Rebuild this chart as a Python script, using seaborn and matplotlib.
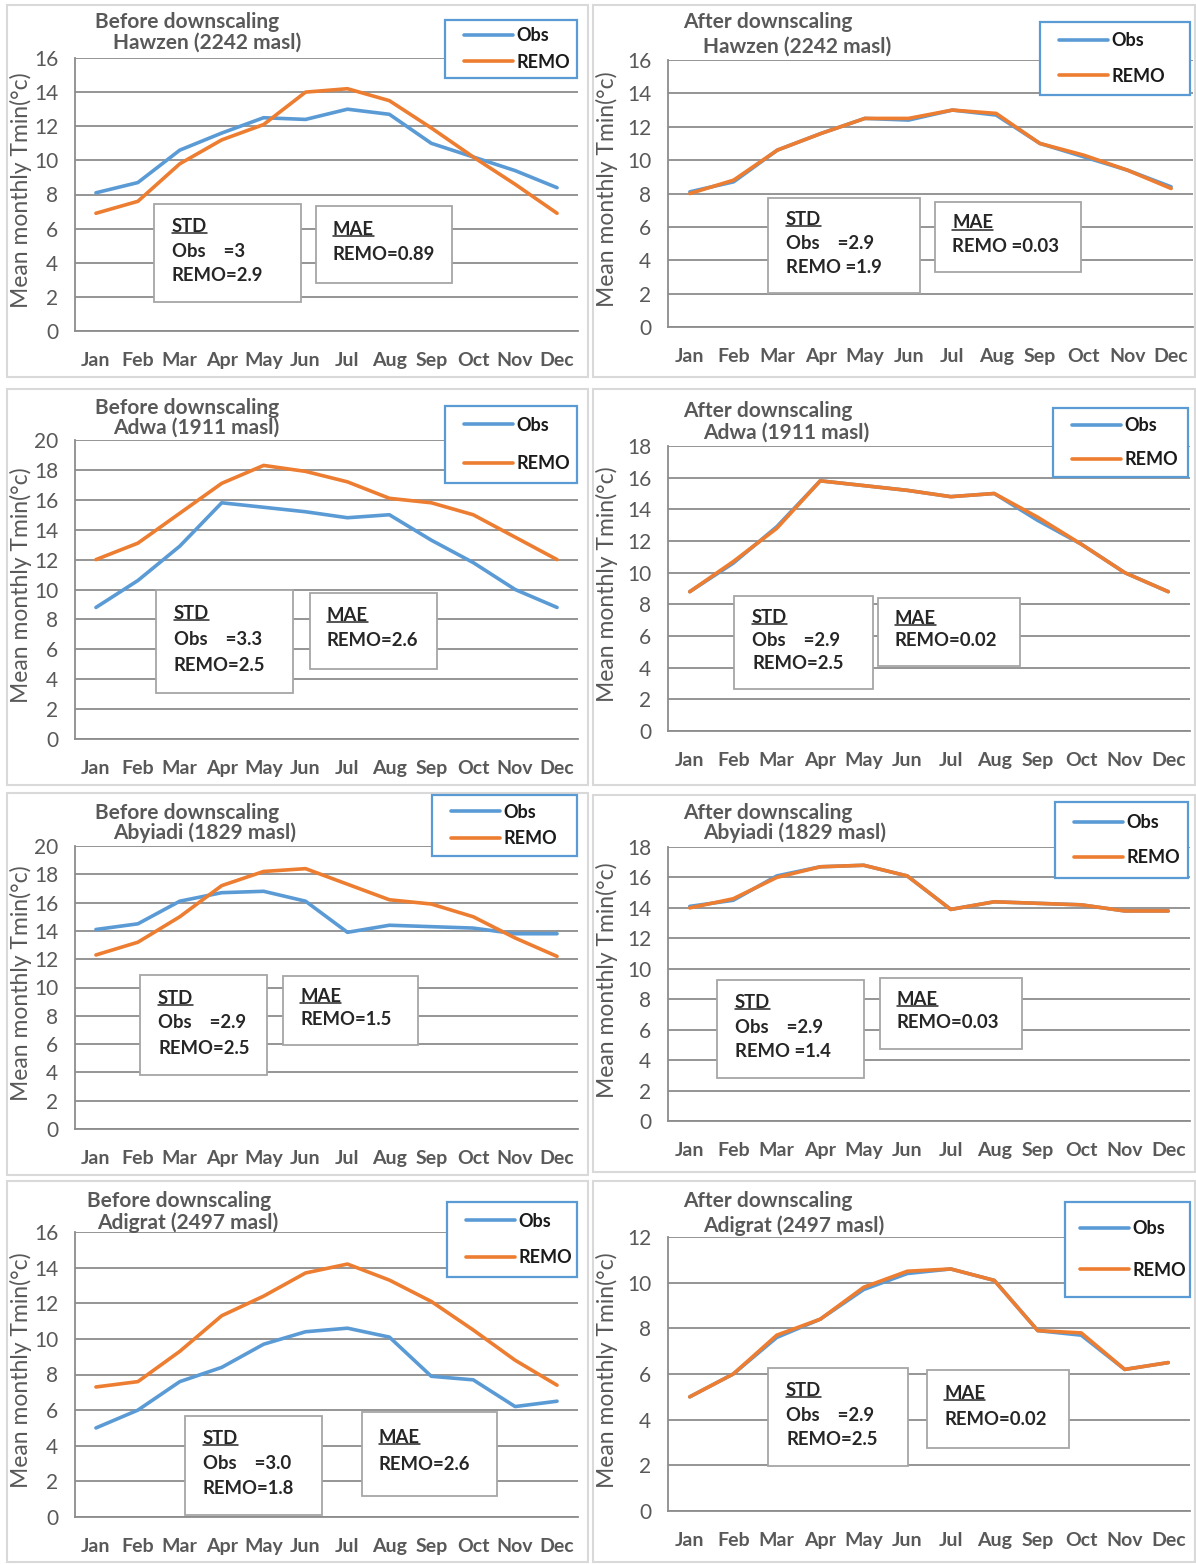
import numpy as np
import pandas as pd
import matplotlib.pyplot as plt
import seaborn as sns
from matplotlib.patches import Rectangle
from matplotlib.lines import Line2D

# Monthly mean Tmin values
months = ['Jan', 'Feb', 'Mar', 'Apr', 'May', 'Jun', 'Jul', 'Aug', 'Sep', 'Oct', 'Nov', 'Dec']

hawzen_obs = [8.1, 8.7, 10.6, 11.6, 12.5, 12.4, 13.0, 12.7, 11.0, 10.2, 9.4, 8.4]
hawzen_remo_before = [6.9, 7.6, 9.8, 11.2, 12.1, 14.0, 14.2, 13.5, 11.9, 10.2, 8.6, 6.9]
hawzen_remo_after = [8.0, 8.8, 10.6, 11.6, 12.5, 12.5, 13.0, 12.8, 11.0, 10.3, 9.4, 8.3]

adwa_obs = [8.8, 10.6, 12.9, 15.8, 15.5, 15.2, 14.8, 15.0, 13.3, 11.8, 10.0, 8.8]
adwa_remo_before = [12.0, 13.1, 15.1, 17.1, 18.3, 17.9, 17.2, 16.1, 15.8, 15.0, 13.5, 12.0]
adwa_remo_after = [8.8, 10.7, 12.8, 15.8, 15.5, 15.2, 14.8, 15.0, 13.5, 11.8, 10.0, 8.8]

abyiadi_obs = [14.1, 14.5, 16.1, 16.7, 16.8, 16.1, 13.9, 14.4, 14.3, 14.2, 13.8, 13.8]
abyiadi_remo_before = [12.3, 13.2, 15.0, 17.2, 18.2, 18.4, 17.3, 16.2, 15.9, 15.0, 13.5, 12.2]
abyiadi_remo_after = [14.0, 14.6, 16.0, 16.7, 16.8, 16.1, 13.9, 14.4, 14.3, 14.2, 13.8, 13.8]

adigrat_obs = [5.0, 6.0, 7.6, 8.4, 9.7, 10.4, 10.6, 10.1, 7.9, 7.7, 6.2, 6.5]
adigrat_remo_before = [7.3, 7.6, 9.3, 11.3, 12.4, 13.7, 14.2, 13.3, 12.1, 10.5, 8.8, 7.4]
adigrat_remo_after = [5.0, 6.0, 7.7, 8.4, 9.8, 10.5, 10.6, 10.1, 7.9, 7.8, 6.2, 6.5]

stations = ['Hawzen (2242 masl)', 'Adwa (1911 masl)', 'Abyiadi (1829 masl)', 'Adigrat (2497 masl)']
# stats per panel, in panel order (before/after for each station)
std_obs_txt = ['Obs    =3', 'Obs    =2.9', 'Obs    =3.3', 'Obs    =2.9',
               'Obs    =2.9', 'Obs    =2.9', 'Obs    =3.0', 'Obs    =2.9']
std_remo_txt = ['REMO=2.9', 'REMO =1.9', 'REMO=2.5', 'REMO=2.5',
                'REMO=2.5', 'REMO =1.4', 'REMO=1.8', 'REMO=2.5']
mae_remo_txt = ['REMO=0.89', 'REMO =0.03', 'REMO=2.6', 'REMO=0.02',
                'REMO=1.5', 'REMO=0.03', 'REMO=2.6', 'REMO=0.02']

W, H = 1196, 1564
blue = '#5B9BD5'
orange = '#ED7D31'
gray = '#595959'
grid_c = '#8c8c8c'
dark = '#262626'

sns.set_theme(style='white')
plt.rcParams['font.family'] = ['Lato', 'DejaVu Sans']

fig = plt.figure(figsize=(W / 100, H / 100), dpi=100)


def fx(x):
    return x / W


def fy(y):
    return 1 - y / H


def box(x0, y0, x1, y1, ec, lw, fill=True, z=3):
    fig.add_artist(Rectangle((fx(x0), fy(y1)), fx(x1 - x0), (y1 - y0) / H, transform=fig.transFigure,
                             facecolor='white' if fill else 'none', fill=fill, edgecolor=ec, lw=lw, zorder=z))


# panel layout in pixels: frame, axes box, title pos, legend box, std box, mae box
panels = [
    dict(obs=hawzen_obs, remo=hawzen_remo_before, st=0, before=True, ymax=16,
         frame=(7, 5, 588, 377), ax=(75, 58, 578, 331), title=(95, 22, 113, 43),
         leg=(445, 20, 577, 78), std=(154, 204, 301, 302), mae=(316, 206, 452, 283), spc=0.5),
    dict(obs=hawzen_obs, remo=hawzen_remo_after, st=0, before=False, ymax=16,
         frame=(593, 5, 1195, 377), ax=(668, 60, 1193, 327), title=(683, 22, 703, 47),
         leg=(1040, 22, 1190, 95), std=(768, 198, 920, 293), mae=(935, 202, 1081, 272), spc=1.0),
    dict(obs=adwa_obs, remo=adwa_remo_before, st=1, before=True, ymax=20,
         frame=(7, 389, 588, 785), ax=(75, 440, 578, 739), title=(95, 408, 113, 428),
         leg=(445, 406, 577, 483), std=(156, 590, 293, 693), mae=(310, 593, 437, 669), spc=1.2),
    dict(obs=adwa_obs, remo=adwa_remo_after, st=1, before=False, ymax=18,
         frame=(593, 389, 1195, 785), ax=(668, 446, 1190, 731), title=(683, 411, 703, 433),
         leg=(1053, 408, 1188, 477), std=(734, 596, 873, 689), mae=(878, 598, 1020, 666), spc=0.95),
    dict(obs=abyiadi_obs, remo=abyiadi_remo_before, st=2, before=True, ymax=20,
         frame=(7, 793, 588, 1175), ax=(75, 846, 578, 1129), title=(95, 813, 113, 833),
         leg=(432, 795, 577, 856), std=(140, 975, 267, 1075), mae=(283, 976, 418, 1045), spc=0.55),
    dict(obs=abyiadi_obs, remo=abyiadi_remo_after, st=2, before=False, ymax=18,
         frame=(593, 795, 1195, 1172), ax=(668, 847, 1190, 1121), title=(683, 813, 703, 833),
         leg=(1055, 802, 1188, 878), std=(717, 980, 864, 1078), mae=(880, 978, 1022, 1049), spc=1.0),
    dict(obs=adigrat_obs, remo=adigrat_remo_before, st=3, before=True, ymax=16,
         frame=(7, 1181, 588, 1562), ax=(75, 1232, 578, 1517), title=(87, 1201, 97, 1223),
         leg=(447, 1202, 577, 1277), std=(185, 1416, 322, 1515), mae=(362, 1412, 497, 1496), spc=1.1),
    dict(obs=adigrat_obs, remo=adigrat_remo_after, st=3, before=False, ymax=12,
         frame=(593, 1181, 1195, 1562), ax=(668, 1237, 1190, 1511), title=(683, 1201, 703, 1226),
         leg=(1065, 1202, 1190, 1297), std=(768, 1368, 908, 1466), mae=(927, 1370, 1069, 1448), spc=1.35,
         lpad=6),
]

underline = []
for i, p in enumerate(panels):
    # outer chart frame
    box(*p['frame'], ec='#d9d9d9', lw=1.5, fill=False, z=0)

    l, t, r, b = p['ax']
    ax = fig.add_axes([fx(l), fy(b), fx(r - l), (b - t) / H])
    df = pd.DataFrame({'Month': months * 2,
                       'Tmin': list(p['obs']) + list(p['remo']),
                       'Series': ['Obs'] * 12 + ['REMO'] * 12})
    sns.lineplot(data=df, x='Month', y='Tmin', hue='Series', palette={'Obs': blue, 'REMO': orange},
                 sort=False, linewidth=2.6, legend=False, ax=ax)
    ax.set_xlim(-0.5, 11.5)
    ax.set_ylim(0, p['ymax'])
    ax.set_yticks(range(0, p['ymax'] + 1, 2))
    ax.set_xlabel('')
    ax.set_ylabel('')
    ax.yaxis.grid(True, color=grid_c, lw=1.3)
    ax.xaxis.grid(False)
    for s in ['top', 'right']:
        ax.spines[s].set_visible(False)
    for s in ['left', 'bottom']:
        ax.spines[s].set_color(grid_c)
        ax.spines[s].set_linewidth(1.3)
    ax.tick_params(axis='y', length=0, pad=12, labelsize=15, labelcolor=gray)
    ax.tick_params(axis='x', length=0, pad=15, labelsize=14, labelcolor=gray)
    for lab in ax.get_xticklabels():
        lab.set_fontweight('bold')

    # y label
    ylx = 21 if l < 300 else 607
    fig.text(fx(ylx), fy((t + b) / 2 - 4), 'Mean monthly Tmin(°c)', rotation=90, ha='center', va='center',
             fontsize=16.5, color=gray)

    # title
    tx0, ty0, tx1, ty1 = p['title']
    fig.text(fx(tx0), fy(ty0), 'Before downscaling' if p['before'] else 'After downscaling',
             ha='left', va='center', fontsize=15, color=gray, fontweight='bold')
    fig.text(fx(tx1), fy(ty1), stations[p['st']], ha='left', va='center', fontsize=15,
             color=gray, fontweight='bold')

    # legend
    lx0, ly0, lx1, ly1 = p['leg']
    box(lx0, ly0, lx1, ly1, ec=blue, lw=1.6, z=3)
    handles = ax.get_lines()[:2]
    leg = fig.legend(handles, ['Obs', 'REMO'], loc='center left',
                     bbox_to_anchor=(fx(lx0 + p.get('lpad', 10)), fy((ly0 + ly1) / 2)),
                     bbox_transform=fig.transFigure,
                     frameon=False, handlelength=2.7, handletextpad=0.2, borderpad=0,
                     labelspacing=p['spc'], prop={'weight': 'bold', 'size': 13})
    leg.set_zorder(5)
    for txt in leg.get_texts():
        txt.set_color('#1a1a1a')

    # STD box
    sx0, sy0, sx1, sy1 = p['std']
    box(sx0, sy0, sx1, sy1, ec='#a6a6a6', lw=1.3)
    hgt = sy1 - sy0
    tx = sx0 + 18
    t1 = fig.text(fx(tx), fy(sy0 + 0.23 * hgt), 'STD', ha='left', va='center', fontsize=13.3,
                  fontweight='bold', color=dark, zorder=4)
    underline.append(t1)
    fig.text(fx(tx), fy(sy0 + 0.48 * hgt), std_obs_txt[i], ha='left', va='center', fontsize=13.3,
             fontweight='bold', color=dark, zorder=4)
    fig.text(fx(tx), fy(sy0 + 0.73 * hgt), std_remo_txt[i], ha='left', va='center', fontsize=13.3,
             fontweight='bold', color=dark, zorder=4)

    # MAE box
    mx0, my0, mx1, my1 = p['mae']
    box(mx0, my0, mx1, my1, ec='#a6a6a6', lw=1.3)
    mh = my1 - my0
    t2 = fig.text(fx(mx0 + 17), fy(my0 + 0.3 * mh), 'MAE', ha='left', va='center', fontsize=13.3,
                  fontweight='bold', color=dark, zorder=4)
    underline.append(t2)
    fig.text(fx(mx0 + 17), fy(my0 + 0.63 * mh), mae_remo_txt[i], ha='left', va='center',
             fontsize=13.3, fontweight='bold', color=dark, zorder=4)

# underline STD / MAE headers
fig.canvas.draw()
rend = fig.canvas.get_renderer()
for t in underline:
    bb = t.get_window_extent(rend)
    fig.add_artist(Line2D([bb.x0 / W, bb.x1 / W], [(bb.y0 + 2) / H] * 2, transform=fig.transFigure,
                          color=dark, lw=1.1, zorder=5))

fig.savefig('out.png', dpi=100, facecolor='white')
